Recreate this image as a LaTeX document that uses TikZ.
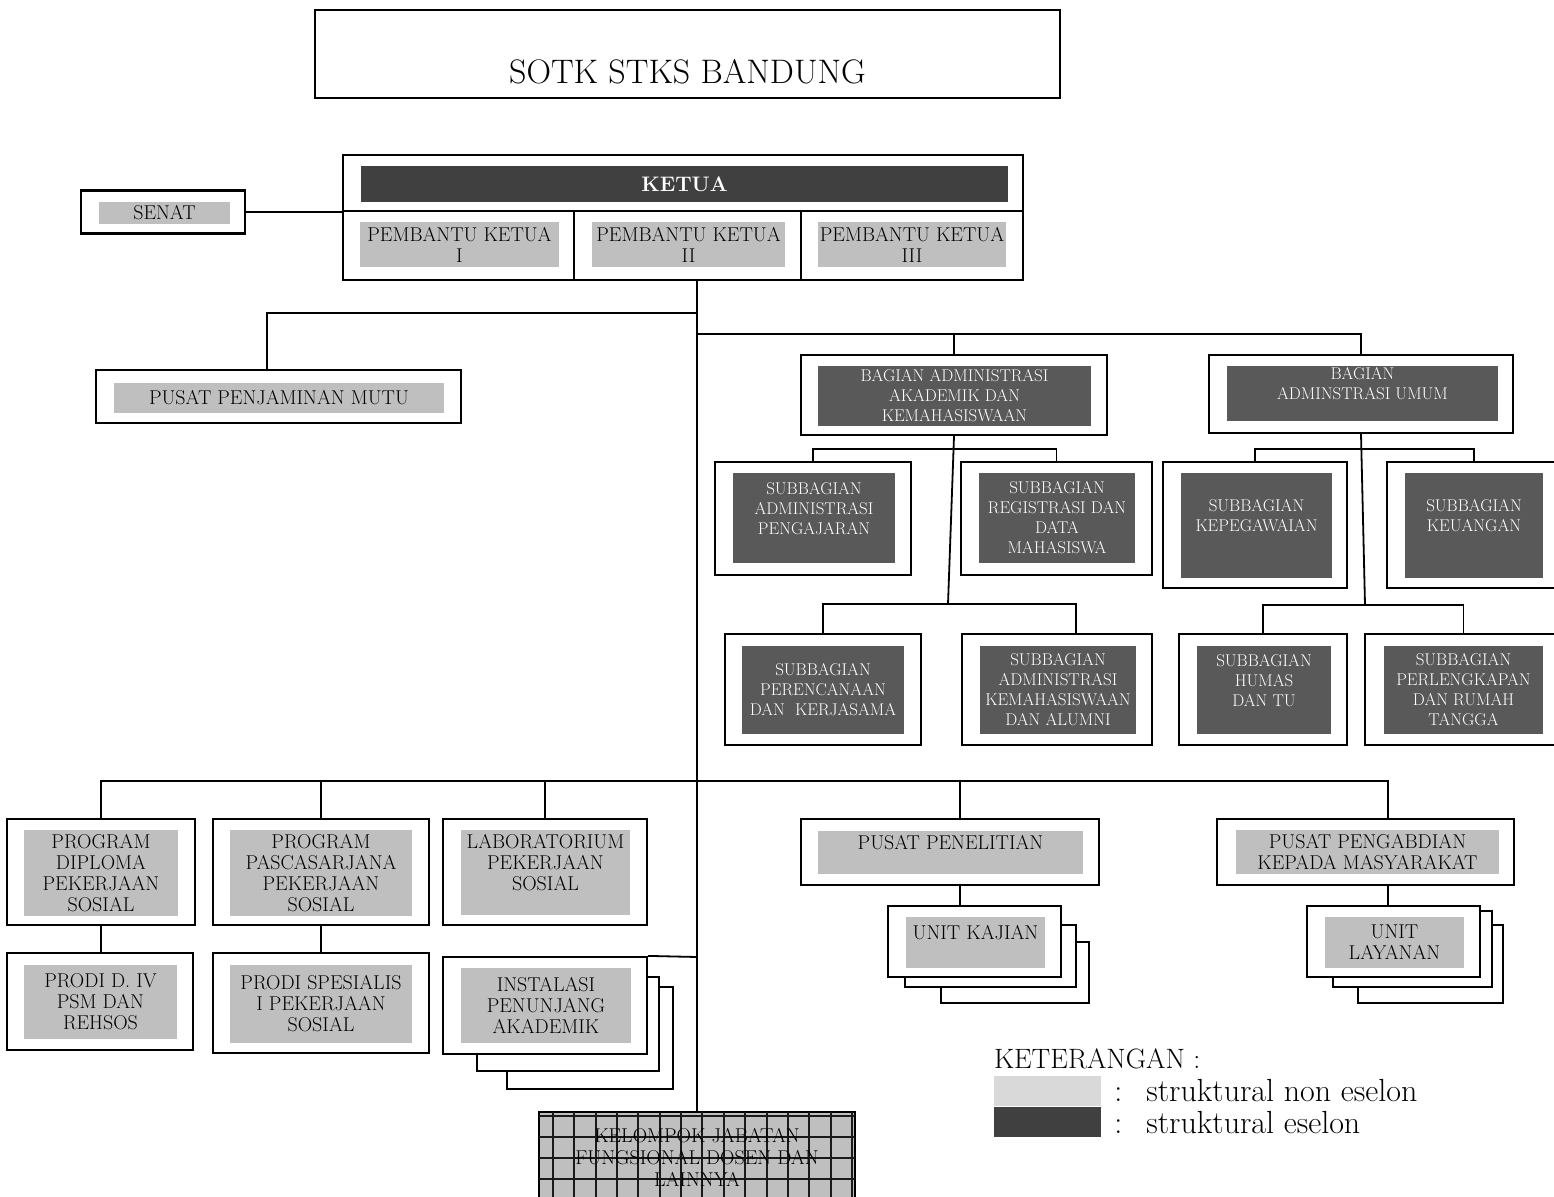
\documentclass[tikz,border=0pt]{standalone}
\usepackage{fontspec}
\usepackage{tikz}
\usetikzlibrary{positioning}

\definecolor{abuabu}{HTML}{BFBFBF}
\definecolor{abumuda}{HTML}{D9D9D9}
\definecolor{gelapsekali}{HTML}{404040}
\definecolor{gelapsedang}{HTML}{595959}

\newcommand{\hurufjudul}{\fontsize{34}{38}\selectfont}
\newcommand{\hurufabu}{\fontsize{20}{21}\selectfont}
\newcommand{\hurufsub}{\fontsize{17}{20}\selectfont}
\newcommand{\hurufket}{\fontsize{28}{31}\selectfont}
\newcommand{\hurufisi}{\fontsize{32}{35}\selectfont}

\begin{document}
\begin{tikzpicture}[x=1pt,y=-1pt,
    kotak/.style 2 args={draw,line width=2.2pt,fill=white,inner sep=0pt,minimum width=#1pt,minimum height=#2pt},
    abu/.style 2 args={fill=abuabu,inner sep=0pt,align=center,font=\hurufabu,minimum width=#1pt,minimum height=#2pt},
    gelap/.style 2 args={fill=gelapsedang,text=white,inner sep=0pt,align=center,font=\hurufsub,minimum width=#1pt,minimum height=#2pt},
    tumpuk/.style={draw,fill=white,line width=2pt},
    kisi/.style={line width=2pt,black!90},
    garis/.style={line width=1.8pt}]
  \useasboundingbox (0,0) rectangle (1554,1196);
  \clip (0,0) rectangle (1554,1196);

  % judul
  \node[kotak={745}{88},label={[font=\hurufjudul,yshift=-18pt]center:SOTK STKS BANDUNG}] (judul) at (687.5,54) {};

  % ketua dan pembantu ketua
  \node[kotak={680}{125}] (ketua) at (683,217.5) {};
  \draw[line width=2.2pt] (343,211) -- (1023,211);
  \draw[line width=2.2pt] (574,211) -- (574,280);
  \draw[line width=2.2pt] (801,211) -- (801,280);
  \node[fill=gelapsekali,text=white,inner sep=0pt,minimum width=647pt,minimum height=36pt,font=\fontsize{21}{24}\selectfont\bfseries] (ketuabar) at (684.5,184) {KETUA};
  \node[abu={199}{45}] (pk1) at (459.5,244.5) {PEMBANTU KETUA\\I};
  \node[abu={193}{45}] (pk2) at (688.5,244.5) {PEMBANTU KETUA\\II};
  \node[abu={188}{45}] (pk3) at (912,244.5) {PEMBANTU KETUA\\III};

  \node[kotak={164}{43}] (senat) at (163,212) {};
  \node[abu={131}{22}] (senatin) at (164.5,212.5) {SENAT};

  \node[kotak={365}{53}] (ppm) at (278.5,396.5) {};
  \node[abu={330}{30}] (ppmin) at (279,398) {PUSAT PENJAMINAN MUTU};

  % bagian
  \node[kotak={306}{80}] (baak) at (954,395) {};
  \node[gelap={273}{60}] (baakin) at (954.5,396) {BAGIAN ADMINISTRASI\\AKADEMIK DAN\\KEMAHASISWAAN};
  \node[kotak={304}{78}] (bau) at (1361,394) {};
  \node[gelap={271}{55}] (bauin) at (1362.5,393.5) {BAGIAN\\ADMINSTRASI UMUM\\\mbox{}};

  % subbagian
  \node[kotak={196}{113}] (sap) at (813,518.5) {};
  \node[gelap={162}{90}] (sapin) at (814,518) {SUBBAGIAN\\ADMINISTRASI\\PENGAJARAN\\\mbox{}};
  \node[kotak={191}{113}] (srd) at (1056.5,518.5) {};
  \node[gelap={156}{90}] (srdin) at (1057,518) {SUBBAGIAN\\REGISTRASI DAN\\DATA\\MAHASISWA};
  \node[kotak={196}{111}] (spp) at (823,689.5) {};
  \node[gelap={162}{88}] (sppin) at (823,690) {SUBBAGIAN\\PERENCANAAN\\DAN~~KERJASAMA};
  \node[kotak={190}{111}] (sak) at (1057,689.5) {};
  \node[gelap={156}{88}] (sakin) at (1058,690) {SUBBAGIAN\\ADMINISTRASI\\KEMAHASISWAAN\\DAN ALUMNI};

  \node[kotak={184}{126}] (skp) at (1255,525) {};
  \node[gelap={151}{105}] (skpin) at (1256.5,525.5) {SUBBAGIAN\\KEPEGAWAIAN\\\mbox{}};
  \node[kotak={174}{126}] (sku) at (1474,525) {};
  \node[gelap={138}{105}] (skuin) at (1474,525.5) {SUBBAGIAN\\KEUANGAN\\\mbox{}};
  \node[kotak={168}{111}] (shm) at (1263,689.5) {};
  \node[gelap={134}{88}] (shmin) at (1264,690) {SUBBAGIAN\\HUMAS\\DAN TU\\\mbox{}};
  \node[kotak={197}{111}] (spr) at (1463.5,689.5) {};
  \node[gelap={159}{88}] (sprin) at (1463.5,690) {SUBBAGIAN\\PERLENGKAPAN\\DAN RUMAH\\TANGGA};

  % program dan pusat
  \node[kotak={188}{106}] (pdps) at (101,872) {};
  \node[abu={154}{86}] (pdpsin) at (101,873) {PROGRAM\\DIPLOMA\\PEKERJAAN\\SOSIAL};
  \node[kotak={216}{106}] (pps) at (321,872) {};
  \node[abu={182}{86}] (ppsin) at (321,873) {PROGRAM\\PASCASARJANA\\PEKERJAAN\\SOSIAL};
  \node[kotak={204}{106}] (lab) at (545,872) {};
  \node[abu={169}{85}] (labin) at (545.5,872.5) {LABORATORIUM\\PEKERJAAN\\SOSIAL\\\mbox{}};
  \node[kotak={186}{97}] (pd4) at (100,1001.5) {};
  \node[abu={153}{74}] (pd4in) at (100.5,1002) {PRODI D. IV\\PSM DAN\\REHSOS};
  \node[kotak={216}{100}] (pdsp) at (321,1003) {};
  \node[abu={182}{78}] (pdspin) at (321,1004) {PRODI SPESIALIS\\I PEKERJAAN\\SOSIAL};

  \draw[tumpuk] (507,987) rectangle (673,1089);
  \draw[tumpuk] (477,977) rectangle (659,1071);
  \node[kotak={204}{97}] (inst) at (545,1005.5) {};
  \node[abu={170}{75}] (instin) at (546,1005.5) {INSTALASI\\PENUNJANG\\AKADEMIK};

  \node[kotak={298}{66}] (pp) at (950,852) {};
  \node[abu={265}{43}] (ppin) at (950.5,852.5) {PUSAT PENELITIAN\\\mbox{}};
  \draw[tumpuk] (941,942) rectangle (1089,1003);
  \draw[tumpuk] (905,925) rectangle (1076,987);
  \node[kotak={173}{71}] (uk) at (974.5,941.5) {};
  \node[abu={139}{51}] (ukin) at (975.5,942.5) {UNIT KAJIAN\\\mbox{}};

  \node[kotak={297}{66}] (ppmas) at (1365.5,852) {};
  \node[abu={263}{44}] (ppmasin) at (1367.5,852) {PUSAT PENGABDIAN\\KEPADA MASYARAKAT};
  \draw[tumpuk] (1358,925) rectangle (1503,1003);
  \draw[tumpuk] (1333,911) rectangle (1492,987);
  \node[kotak={173}{71}] (ul) at (1393.5,941.5) {};
  \node[abu={139}{51}] (ulin) at (1394.5,942.5) {UNIT\\LAYANAN};

  % kelompok jabatan fungsional
  \node[draw,line width=2.5pt,fill=abuabu,inner sep=0pt,minimum width=316pt,minimum height=90pt] (kjf) at (697,1157) {};
  \foreach \i in {0,...,14}
    \draw[kisi] (553+21.35*\i,1112) -- (553+21.35*\i,1202);
  \foreach \gy in {1116,1137,1158,1179}
    \draw[kisi] (539,\gy) -- (855,\gy);
  \node[font=\fontsize{20}{22}\selectfont,align=center] (kjfteks) at (kjf) {KELOMPOK JABATAN\\FUNGSIONAL DOSEN DAN\\LAINNYA};

  % garis penghubung
  \coordinate (jmutu) at (697,313);
  \coordinate (tmutu) at (267,313);
  \coordinate (jbagian) at (697,334);
  \coordinate (jbaak1) at (948,449);
  \coordinate (jbaak2) at (948,604);
  \coordinate (tsak) at (1076,604);
  \coordinate (jbau1) at (1365,449);
  \coordinate (jbau2) at (1365,605);
  \coordinate (jbawah) at (697,781);
  \coordinate (tpenelitian) at (960,781);
  \coordinate (tpengabdian) at (1388,781);
  \coordinate (jinst) at (697,957);

  \draw[garis] (senat.east) -- (senat.east -| ketua.west);
  \draw[garis] (ketua.south -| kjf.north) -- (kjf.north);
  \draw[garis] (jmutu) -- (tmutu) -- (tmutu |- ppm.north);
  \draw[garis] (jbagian) -| (bau.north);
  \draw[garis] (baak.north) -- (baak.north |- jbagian);
  \draw[garis] (baak.south) -- (jbaak2);
  \draw[garis] (sap.north) |- (jbaak1) -| (srd.north);
  \draw[garis] (spp.north) |- (jbaak2) -- (tsak) -- (tsak |- sak.north);
  \draw[garis] (bau.south) -- (jbau2);
  \draw[garis] (skp.north) |- (jbau1) -| (sku.north);
  \draw[garis] (shm.north) |- (jbau2) -| (spr.north);
  \draw[garis] (pdps.north) |- (jbawah) -- (tpengabdian) -- (tpengabdian |- ppmas.north);
  \draw[garis] (pps.north) -- (pps.north |- jbawah);
  \draw[garis] (lab.north) -- (lab.north |- jbawah);
  \draw[garis] (tpenelitian) -- (tpenelitian |- pp.north);
  \draw[garis] (tpenelitian |- pp.south) -- (tpenelitian |- uk.north);
  \draw[garis] (tpengabdian |- ppmas.south) -- (tpengabdian |- ul.north);
  \draw[garis] (pdps.south) -- (pdps.south |- pd4.north);
  \draw[garis] (pps.south) -- (pps.south |- pdsp.north);
  \draw[garis] (jinst) -- (inst.north east);

  % keterangan
  \node[fill=abumuda,inner sep=0pt,minimum width=107pt,minimum height=30pt] (nonesl) at (1047.5,1091) {};
  \node[fill=gelapsekali,inner sep=0pt,minimum width=107pt,minimum height=30pt,below=1pt of nonesl] (esl) {};
  \node[above=7pt of nonesl.north west,anchor=south west,font=\hurufket,inner sep=0pt] (ket) {KETERANGAN :};
  \node[right=13pt of nonesl,font=\hurufisi,inner sep=0pt] (ketnon) {:\hspace{0.75em}struktural non eselon};
  \node[right=13pt of esl,font=\hurufisi,inner sep=0pt] (keteslon) {:\hspace{0.75em}struktural eselon};
\end{tikzpicture}
\end{document}
